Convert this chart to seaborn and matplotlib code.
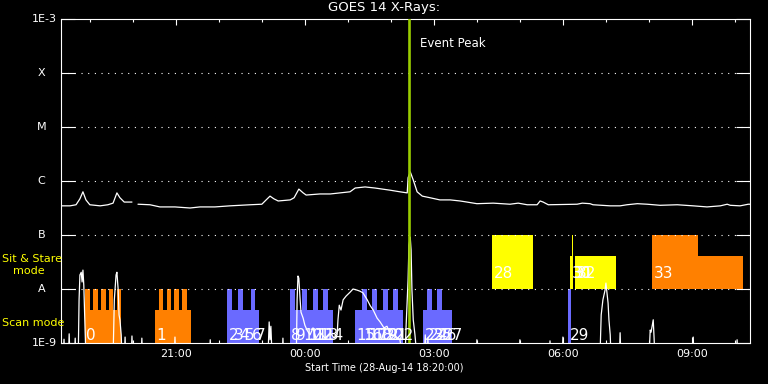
import numpy as np
import pandas as pd
import matplotlib
matplotlib.use("Agg")
import matplotlib.pyplot as plt
from matplotlib.ticker import NullLocator, FixedLocator
import seaborn as sns

# time axis: hours after the start time 28-Aug-14 18:20:00
start_hour = 18 + 20 / 60
end_hours = 16.02

# GOES 1-8 A flux (log10 W/m^2); seg marks the data gap
goes_t = [0.00, 0.21, 0.35, 0.44, 0.51, 0.58, 0.67, 0.91, 1.09, 1.21, 1.30, 1.37, 1.47, 1.65,
          1.79, 2.07, 2.30, 2.65, 3.00, 3.23, 3.58, 3.93, 4.40, 4.67, 4.77, 4.86, 4.95, 5.05,
          5.33, 5.42, 5.53, 5.63, 5.70, 6.02, 6.26, 6.49, 6.72, 6.84, 7.07, 7.30, 7.65, 7.88,
          8.05, 8.07, 8.12, 8.19, 8.28, 8.40, 8.58, 8.81, 9.05, 9.28, 9.44, 9.67, 10.05, 10.44,
          10.63, 10.84, 11.07, 11.14, 11.21, 11.33, 12.00, 12.12, 12.30, 12.37, 12.77, 13.00,
          13.16, 13.40, 13.63, 13.93, 14.33, 14.70, 15.02, 15.33, 15.49, 15.56, 15.79, 15.98, 16.02]
goes_logf = [-6.46, -6.46, -6.44, -6.33, -6.20, -6.35, -6.44, -6.46, -6.44, -6.41, -6.22, -6.31,
             -6.39, -6.39, -6.43, -6.44, -6.48, -6.48, -6.50, -6.48, -6.48, -6.46, -6.44, -6.43,
             -6.35, -6.28, -6.33, -6.37, -6.35, -6.31, -6.15, -6.22, -6.26, -6.24, -6.24, -6.22,
             -6.20, -6.13, -6.11, -6.13, -6.17, -6.20, -6.22, -5.94, -5.83, -5.98, -6.20, -6.28,
             -6.31, -6.35, -6.35, -6.37, -6.39, -6.42, -6.41, -6.43, -6.41, -6.44, -6.44, -6.37,
             -6.39, -6.44, -6.43, -6.41, -6.42, -6.44, -6.46, -6.46, -6.44, -6.42, -6.43, -6.45,
             -6.44, -6.46, -6.48, -6.46, -6.43, -6.45, -6.46, -6.43, -6.43]
goes_seg = [0] * 14 + [1] * 67

# second (lower) trace, log10 flux; -9.3 sits below the axis floor
low_t = [0.00, 0.05, 0.07, 0.09, 0.17, 0.19, 0.21, 0.31, 0.33, 0.35, 0.40, 0.42, 0.44, 0.47,
         0.49, 0.51, 0.53, 0.56, 0.58, 1.21, 1.24, 1.28, 1.30, 1.33, 1.35, 1.37, 1.40, 1.42,
         1.47, 1.49, 1.51, 1.63, 1.65, 1.67, 1.86, 1.88, 1.90, 2.63, 2.65, 2.67, 3.45, 3.47,
         3.49, 4.81, 4.84, 4.86, 4.88, 4.91, 5.14, 5.16, 5.18, 5.47, 5.49, 5.51, 5.53, 5.56,
         5.58, 5.63, 5.67, 5.72, 5.79, 5.86, 5.93, 6.02, 6.14, 6.26, 6.35, 6.42, 6.44, 6.47,
         6.51, 6.56, 6.63, 6.72, 6.79, 6.88, 6.95, 7.02, 7.12, 7.19, 7.26, 7.35, 7.42, 7.51,
         7.58, 7.65, 7.77, 7.88, 7.95, 8.00, 8.02, 8.07, 8.09, 8.12, 8.14, 8.16, 8.19, 8.23,
         8.28, 8.44, 8.47, 8.49, 8.51, 8.53, 8.56, 9.65, 9.67, 9.69, 10.65, 10.67, 10.69, 11.35,
         11.37, 11.39, 11.65, 11.67, 11.69, 12.53, 12.56, 12.60, 12.65, 12.67, 12.70, 12.72,
         12.74, 12.77, 12.79, 12.98, 13.00, 13.02, 13.67, 13.70, 13.72, 13.77, 13.79, 13.81,
         14.68, 14.70, 14.72, 15.70, 15.72, 15.74, 16.02]
low_logf = [-9.3, -9.3, -8.93, -9.3, -9.3, -8.83, -9.3, -9.3, -8.91, -9.3, -9.3, -8.20, -7.74,
            -7.69, -7.87, -7.65, -7.93, -8.76, -9.3, -9.3, -8.20, -7.74, -7.69, -8.02, -8.48,
            -8.57, -8.85, -9.3, -9.3, -8.89, -9.3, -9.3, -8.87, -9.3, -9.3, -8.91, -9.3, -9.3,
            -8.89, -9.3, -9.3, -8.94, -9.3, -9.3, -8.61, -8.94, -8.69, -9.3, -9.3, -8.91, -9.3,
            -9.3, -8.20, -7.76, -7.80, -8.20, -8.43, -8.54, -8.67, -8.76, -8.85, -8.72, -8.91,
            -8.80, -8.91, -8.81, -8.91, -8.85, -8.57, -8.30, -8.39, -8.20, -8.13, -8.06, -8.00,
            -8.02, -8.04, -8.07, -8.20, -8.31, -8.39, -8.54, -8.61, -8.72, -8.69, -8.83, -8.87,
            -8.94, -9.3, -9.3, -8.76, -7.83, -7.19, -7.04, -7.28, -8.02, -8.57, -8.85, -9.3,
            -9.3, -8.85, -9.3, -9.3, -8.91, -9.3, -9.3, -8.94, -9.3, -9.3, -8.94, -9.3, -9.3,
            -8.96, -9.3, -9.3, -8.89, -9.3, -9.3, -8.48, -8.20, -8.02, -7.89, -8.11, -8.26,
            -8.57, -8.85, -9.3, -9.3, -8.81, -9.3, -9.3, -8.76, -8.80, -8.57, -8.91, -9.3,
            -9.3, -8.89, -9.3, -9.3, -8.94, -9.3, -9.3]

# observation blocks (hours after start): mode, tall/short, colour
blk_start = [0.558, 0.558, 0.751, 0.937, 1.116, 1.295,
             2.186, 2.286, 2.458, 2.635, 2.814,
             3.867, 3.984, 4.123, 4.240, 4.412, 4.505,
             5.326, 5.442, 5.598, 5.714, 5.867, 5.970, 6.100, 6.216,
             6.837, 6.993, 7.109, 7.240, 7.342, 7.495, 7.598, 7.728, 7.830,
             8.426, 8.519, 8.635, 8.737, 8.867,
             11.791,
             10.023, 11.837, 11.884, 11.960, 13.744, 14.814]
blk_end = [1.395, 0.674, 0.853, 1.040, 1.216, 1.395,
           3.016, 2.379, 2.558, 2.737, 2.923,
           3.984, 4.123, 4.240, 4.412, 4.505, 4.605,
           5.442, 5.598, 5.714, 5.867, 5.970, 6.100, 6.216, 6.333,
           6.993, 7.109, 7.240, 7.342, 7.495, 7.598, 7.728, 7.830, 7.960,
           8.519, 8.635, 8.737, 8.867, 9.086,
           11.853,
           10.970, 11.914, 11.907, 12.907, 14.814, 15.860]
blk_tall = [0, 1, 1, 1, 1, 1,
            0, 1, 1, 1, 1,
            1, 0, 1, 0, 1, 0,
            1, 0, 1, 0, 1, 0, 1, 0,
            0, 1, 0, 1, 0, 1, 0, 1, 0,
            0, 1, 0, 1, 0,
            1,
            1, 0, 1, 0, 1, 0]
blk_mode = ["scan"] * 40 + ["sit"] * 6
blk_color = ["orange"] * 11 + ["blue"] * 29 + ["yellow"] * 4 + ["orange"] * 2

# observation numbers and their start times
lab_num = [0, 1, 2, 3, 4, 5, 6, 7, 8, 9, 10, 11, 12, 13, 14, 15, 16, 17, 18, 19, 20, 21, 22,
           23, 24, 25, 26, 27, 29, 28, 30, 31, 32, 33]
lab_t = [0.558, 2.186, 3.867, 3.984, 4.123, 4.240, 4.412, 4.505, 5.326, 5.442, 5.598, 5.714,
         5.867, 5.970, 6.100, 6.837, 6.993, 7.109, 7.240, 7.342, 7.495, 7.598, 7.728, 8.426,
         8.519, 8.635, 8.737, 8.867, 11.791, 10.023, 11.837, 11.884, 11.960, 13.744]
lab_mode = ["scan"] * 29 + ["sit"] * 5

event_peak = 8.09
goes_levels = ["1E-9", "A", "B", "C", "M", "X", "1E-3"]

palette = {"orange": "#FF8000", "blue": "#6A6AFF", "yellow": "#FFFF00"}
band = {"scan": (1e-9, 1e-8, 10 ** -8.39), "sit": (1e-8, 1e-7, 10 ** -7.39)}

sns.set_style("dark", rc={"axes.facecolor": "black", "figure.facecolor": "black",
                          "axes.edgecolor": "white", "text.color": "white",
                          "xtick.color": "white", "ytick.color": "white"})
plt.rcParams["font.family"] = ["DejaVu Sans"]

fig = plt.figure(figsize=(7.68, 3.84), dpi=100)
ax = fig.add_axes([61 / 768, 41 / 384, 689 / 768, 324 / 384])
ax.set_yscale("log")

# observation blocks
for s, e, tall, mode, col in zip(blk_start, blk_end, blk_tall, blk_mode, blk_color):
    lo, hi, mid = band[mode]
    top = hi if tall else mid
    ax.bar(s, top - lo, width=e - s, bottom=lo, align="edge", color=palette[col],
           linewidth=0, zorder=1)

goes = pd.DataFrame({"t": goes_t, "flux": 10 ** np.array(goes_logf), "seg": goes_seg})
low = pd.DataFrame({"t": low_t, "flux": 10 ** np.array(low_logf)})
sns.lineplot(data=low, x="t", y="flux", estimator=None, color="white", lw=0.9, ax=ax, zorder=3)
sns.lineplot(data=goes, x="t", y="flux", units="seg", estimator=None, color="white", lw=0.9,
             ax=ax, zorder=3)

# dotted level lines
for lev in [1e-8, 1e-7, 1e-6, 1e-5, 1e-4]:
    ax.axhline(lev, color="white", lw=0.8, ls=(0, (1, 5)), zorder=4)

ax.axvline(event_peak, color="#99CC00", lw=1.9, zorder=5)
ax.text(event_peak + 0.25, 10 ** -3.45, "Event Peak", color="white", fontsize=8.5, va="center")

for n, t, mode in zip(lab_num, lab_t, lab_mode):
    y = 10 ** -8.94 if mode == "scan" else 10 ** -7.80
    ax.annotate(str(n), (t, y), xytext=(1, 0), textcoords="offset points", color="white",
                fontsize=11, va="baseline", ha="left", zorder=6)

ax.set_xlim(0, end_hours)
ax.set_ylim(1e-9, 1e-3)
ax.set_xlabel("")
ax.set_ylabel("")
ax.grid(False)

hours = np.arange(19, 35) - start_hour
major = hours[(np.arange(19, 35) % 3) == 0]
ax.xaxis.set_major_locator(FixedLocator(major))
ax.xaxis.set_minor_locator(FixedLocator(hours))
ax.set_xticklabels(["21:00", "00:00", "03:00", "06:00", "09:00"])
ax.yaxis.set_major_locator(FixedLocator([10.0 ** k for k in range(-9, -2)]))
ax.yaxis.set_minor_locator(NullLocator())
ax.set_yticklabels([])
ax.tick_params(axis="x", which="major", direction="in", length=4.3, width=0.8, top=True,
               bottom=True, labelsize=8, pad=4, colors="white")
ax.tick_params(axis="x", which="minor", direction="in", length=2.2, width=0.8, top=True,
               bottom=True)
ax.tick_params(axis="y", which="major", direction="in", length=10, width=0.8, left=True,
               right=True, colors="white")
for sp in ax.spines.values():
    sp.set_color("white")
    sp.set_linewidth(0.8)

for k, name in zip(range(-9, -2), goes_levels):
    dx = -3 if name.startswith("1E") else -14
    ax.annotate(name, (0, 10.0 ** k), xycoords=("axes fraction", "data"), xytext=(dx, 0),
                textcoords="offset points", ha="right" if dx == -3 else "center",
                va="center", color="white", fontsize=8)

fig.text(0.5, 1 - 8 / 384, "GOES 14 X-Rays:", ha="center", va="center", fontsize=9.5)
fig.text(0.5, 1 - 368 / 384, "Start Time (28-Aug-14 18:20:00)", ha="center", va="center",
         fontsize=7)
fig.text(2 / 768, 1 - 259 / 384, "Sit & Stare", ha="left", va="center", fontsize=8,
         color="#FFFF00")
fig.text(13 / 768, 1 - 271 / 384, "mode", ha="left", va="center", fontsize=8, color="#FFFF00")
fig.text(2 / 768, 1 - 323 / 384, "Scan mode", ha="left", va="center", fontsize=8,
         color="#FFFF00")

fig.savefig("out.png", dpi=100, facecolor="black")
